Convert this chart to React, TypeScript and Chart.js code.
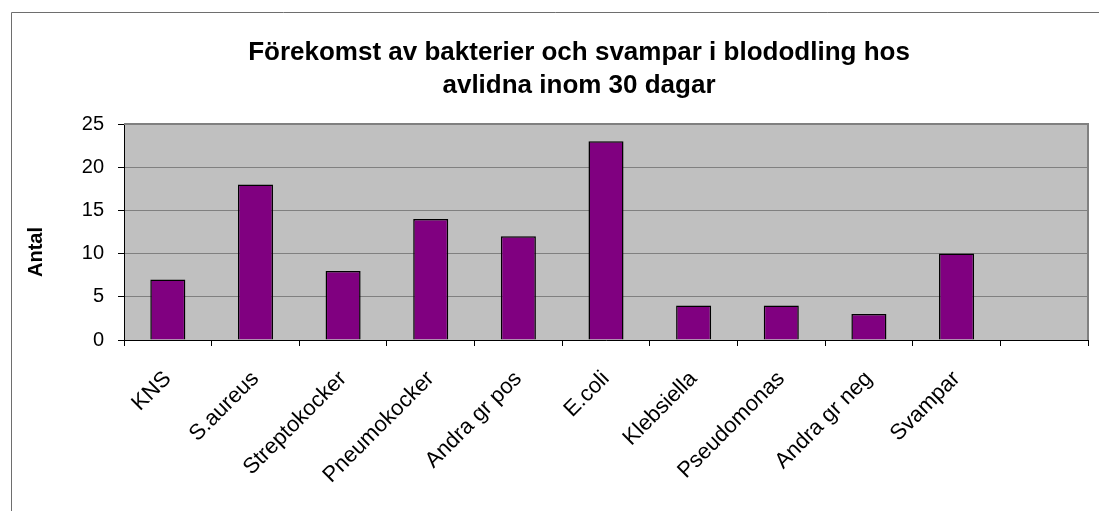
import React, { useEffect, useRef } from "react";
import { Chart, registerables } from "chart.js";

Chart.register(...registerables);

const categories = [
  "KNS",
  "S.aureus",
  "Streptokocker",
  "Pneumokocker",
  "Andra gr pos",
  "E.coli",
  "Klebsiella",
  "Pseudomonas",
  "Andra gr neg",
  "Svampar",
  "",
];
const antal = [7, 18, 8, 14, 12, 23, 4, 4, 3, 10, null];
const yTicks = [0, 5, 10, 15, 20, 25];
const titleLines = ["Förekomst av bakterier och svampar i blododling hos", "avlidna inom 30 dagar"];
const yTitle = "Antal";

const FONT = "'Liberation Sans', Arial, sans-serif";

const decorPlugin = {
  id: "decor",
  beforeDraw(chart: any) {
    const { ctx, chartArea } = chart;
    ctx.save();
    ctx.fillStyle = "#ffffff";
    ctx.fillRect(0, 0, chart.width, chart.height);
    ctx.fillStyle = "#c0c0c0";
    ctx.fillRect(chartArea.left, chartArea.top, chartArea.right - chartArea.left, chartArea.bottom - chartArea.top);
    // outer border (top & left)
    ctx.strokeStyle = "#6e6e6e";
    ctx.lineWidth = 1;
    ctx.beginPath();
    ctx.moveTo(11.5, chart.height);
    ctx.lineTo(11.5, 12.5);
    ctx.lineTo(chart.width, 12.5);
    ctx.stroke();
    ctx.restore();
  },
  afterDraw(chart: any) {
    const { ctx, chartArea } = chart;
    ctx.save();
    // plot area border top/right
    ctx.strokeStyle = "#808080";
    ctx.lineWidth = 2;
    ctx.beginPath();
    ctx.moveTo(chartArea.left, chartArea.top);
    ctx.lineTo(chartArea.right, chartArea.top);
    ctx.lineTo(chartArea.right, chartArea.bottom);
    ctx.stroke();
    // title
    ctx.fillStyle = "#000";
    ctx.font = `bold 26px ${FONT}`;
    ctx.textAlign = "center";
    ctx.textBaseline = "alphabetic";
    ctx.fillText(titleLines[0], 579, 60);
    ctx.fillText(titleLines[1], 579, 93);
    // y title
    ctx.font = `bold 20px ${FONT}`;
    ctx.translate(36, 252);
    ctx.rotate(-Math.PI / 2);
    ctx.textBaseline = "middle";
    ctx.fillText(yTitle, 0, 0);
    ctx.restore();
  },
};

export default function App() {
  const ref = useRef<HTMLCanvasElement>(null);
  useEffect(() => {
    if (!ref.current) return;
    const chart = new Chart(ref.current, {
      type: "bar",
      data: {
        labels: categories,
        datasets: [
          {
            data: antal as any,
            backgroundColor: "#800080",
            borderColor: "#000000",
            borderWidth: 1.5,
            categoryPercentage: 1,
            barPercentage: 0.4,
          },
        ],
      },
      options: {
        animation: false,
        responsive: false,
        layout: { padding: { top: 124, left: 0, right: 11, bottom: 0 } },
        plugins: { legend: { display: false }, title: { display: false }, tooltip: { enabled: false } },
        scales: {
          x: {
            afterFit: (s: any) => {
              s.height = 171;
            },
            grid: { drawOnChartArea: false, drawTicks: true, tickLength: 6, tickColor: "#000", offset: true },
            border: { color: "#000", width: 1 },
            ticks: {
              autoSkip: false,
              maxRotation: 45,
              minRotation: 45,
              color: "#000",
              font: { family: FONT, size: 22 },
              padding: 20,
            },
          },
          y: {
            min: 0,
            max: 25,
            afterFit: (s: any) => {
              s.width = 124;
            },
            afterBuildTicks: (s: any) => {
              s.ticks = yTicks.map((v) => ({ value: v }));
            },
            grid: { color: "#808080", lineWidth: 1, tickLength: 6, tickColor: "#000" },
            border: { color: "#000", width: 1 },
            ticks: { color: "#000", font: { family: FONT, size: 20 }, padding: 14 },
          },
        },
      },
      plugins: [decorPlugin],
    });
    return () => chart.destroy();
  }, []);
  return (
    <div style={{ position: "absolute", left: 0, top: 0, width: 1099, height: 511 }}>
      <canvas ref={ref} width={1099} height={511} style={{ width: 1099, height: 511 }} />
    </div>
  );
}
